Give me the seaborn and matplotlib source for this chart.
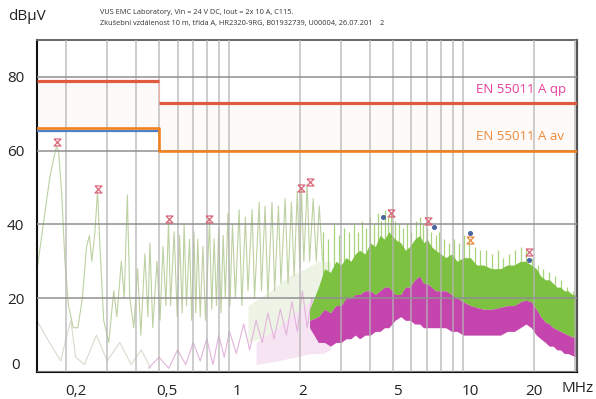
import numpy as np
import pandas as pd
import matplotlib
matplotlib.use("Agg")
import matplotlib.pyplot as plt
import seaborn as sns
from matplotlib.path import Path
from matplotlib.ticker import LogLocator, NullFormatter, FixedLocator
from matplotlib.transforms import ScaledTranslation

# ---------------- data ----------------
# limit lines
qp_f = [0.15, 0.5, 30.5]
qp_db = [79, 73]
av_f = [0.15, 0.5, 30.5]
av_db = [66.2, 60]
av2_f = [0.15, 0.5]
av2_db = [65.3]

# low-frequency (pale green) trace
lo_f = [0.150, 0.160, 0.170, 0.176, 0.182, 0.186, 0.192, 0.198, 0.205, 0.215, 0.225,
        0.235, 0.245, 0.252, 0.258, 0.266, 0.273, 0.279, 0.290, 0.305, 0.320, 0.330,
        0.345, 0.355, 0.366, 0.375, 0.390, 0.405, 0.418, 0.435, 0.448, 0.457, 0.470,
        0.490, 0.505, 0.520, 0.535, 0.549, 0.560, 0.580, 0.598, 0.612, 0.628, 0.640,
        0.655, 0.675, 0.690, 0.705, 0.718, 0.732, 0.750, 0.770, 0.790, 0.822, 0.840,
        0.860, 0.880, 0.900, 0.920, 0.940, 0.960, 0.985, 1.005, 1.03, 1.06, 1.10, 1.13,
        1.17, 1.20, 1.25, 1.28, 1.34, 1.37, 1.42, 1.46, 1.52, 1.56, 1.62, 1.66, 1.73,
        1.78, 1.84, 1.89, 1.95, 2.00, 2.03, 2.08, 2.15, 2.20, 2.28, 2.35, 2.42, 2.50]
lo_db = [27, 40, 52, 57, 61, 60, 48, 30, 18, 12, 12,
         20, 34, 37, 30, 38, 49, 35, 14, 8, 22, 15,
         30, 20, 48, 20, 12, 28, 10, 32, 15, 35, 12,
         30, 14, 34, 18, 41, 18, 38, 15, 37, 16, 40,
         18, 36, 14, 38, 16, 36, 15, 34, 14, 41, 17,
         36, 18, 39, 16, 37, 20, 43, 18, 40, 20, 44, 18,
         42, 22, 44, 20, 46, 22, 45, 20, 46, 22, 45, 24, 47,
         24, 46, 26, 49, 28, 50, 30, 51, 30, 47, 30, 45, 30]

# low-frequency faint lower trace
low2_f = [0.15, 0.17, 0.19, 0.20, 0.21, 0.22, 0.24, 0.27, 0.30, 0.34, 0.38, 0.42, 0.46]
low2_db = [14, 8, 3, 9, 14, 4, 2, 10, 3, 8, 2, 6, 1]

# pale magenta trace
pm_f = [0.45, 0.50, 0.55, 0.60, 0.65, 0.70, 0.75, 0.80, 0.85, 0.90, 0.95, 1.00, 1.07,
        1.15, 1.22, 1.30, 1.38, 1.46, 1.55, 1.65, 1.75, 1.85, 1.95, 2.05, 2.15, 2.25, 2.40]
pm_db = [1, 4, 1, 6, 2, 8, 3, 9, 2, 10, 4, 11, 5, 13, 6, 14, 8, 16, 9, 17, 10, 19, 11,
         22, 12, 20, 14]

# pale washes 1.2 - 2.7 MHz
pg_f = [1.2, 1.5, 1.8, 2.1, 2.4, 2.7]
pg_top = [18, 22, 26, 28, 30, 30]
pg_bot = [8, 10, 12, 14, 16, 17]
pmw_f = [1.3, 1.6, 1.9, 2.2, 2.5, 2.7]
pmw_top = [8, 12, 16, 19, 17, 17]
pmw_bot = [2, 3, 4, 5, 5, 6]

# dense band (green / magenta)
band_f = [2.2, 2.4, 2.55, 2.7, 2.85, 3.0, 3.15, 3.3, 3.45, 3.6, 3.8, 4.0, 4.2, 4.4, 4.6,
          4.8, 5.1, 5.4, 5.65, 5.9, 6.2, 6.5, 6.75, 7.0, 7.3, 7.6, 8.0, 8.4, 8.9, 9.4,
          10.0, 10.7, 11.4, 12.2, 13.2, 14.4, 15.4, 16.5, 17.5, 18.5, 19.5, 20.5, 21.4,
          22.4, 23.3, 24.2, 25.1, 26.0, 27.0, 28.0, 29.2, 30.5]
green_top = [17, 23, 28, 27, 30, 29, 31, 30, 32, 33, 32, 35, 34, 37, 36, 38, 36, 35, 33,
             34, 36, 37, 35, 36, 34, 33, 32, 31, 32, 30, 31, 31, 29, 29, 28, 28, 29, 29,
             30, 30, 29, 28, 26, 25, 25, 24, 23, 23, 22, 22, 21, 21]
mag_top = [14, 15, 17, 16, 18, 18, 20, 20, 21, 21, 22, 22, 21, 22, 23, 23, 21, 21, 23,
           23, 25, 26, 24, 24, 23, 22, 22, 22, 21, 20, 19, 18, 17.5, 17, 17, 17.5, 18,
           18, 19, 19.5, 19, 17, 15, 13.5, 13, 12, 11.5, 11, 10.5, 10, 9.5, 9.5]
mag_bot = [12, 8, 8, 7, 8, 8, 9, 9, 10, 9, 10, 10, 11, 11, 12, 12, 14, 15, 14, 14, 13,
           13, 12, 12, 12, 12, 12, 12, 11, 11, 10, 10, 10, 10, 10, 10, 11, 11, 12, 13,
           12, 10, 9, 8, 7, 7, 6, 6, 5, 5, 4.5, 4]

# spikes on top of the dense band
spike_f = [2.5, 2.65, 2.8, 2.95, 3.1, 3.25, 3.4, 3.55, 3.7, 3.85, 4.0, 4.15, 4.3, 4.45,
           4.6, 4.75, 4.9, 5.1, 5.3, 5.5, 5.75, 6.0, 6.25, 6.5, 6.75, 7.0, 7.3, 7.6, 7.9,
           8.3, 8.7, 9.1, 9.6, 10.1, 10.6, 11.2, 11.8, 12.5, 13.2, 14.0, 14.8, 15.7,
           16.6, 17.6, 18.6, 19.7, 20.8, 22.0, 23.3, 24.7, 26.2, 27.8, 29.5]
spike_db = [38, 36, 40, 37, 39, 38, 40, 38, 41, 39, 42, 40, 43, 41, 44, 42, 43, 41, 40,
            39, 40, 38, 41, 42, 40, 39, 38, 37, 38, 36, 35, 36, 35, 37, 35, 34, 33, 33,
            32, 33, 31, 32, 33, 34, 33, 31, 29, 28, 27, 26, 25, 23, 22]

# peak markers
qpm_f = [0.184, 0.273, 0.554, 0.821, 2.03, 2.20, 4.92, 7.08, 19.0]
qpm_db = [62.4, 49.7, 41.4, 41.6, 50.0, 51.6, 43.0, 41.0, 32.4]
avm_f = [10.7]
avm_db = [35.7]
dot_f = [4.54, 7.5, 10.7, 19.0]
dot_db = [41.9, 39.3, 37.8, 30.3]

xticks = [0.2, 0.5, 1, 2, 5, 10, 20]
xtick_labels = ["0,2", "0,5", "1", "2", "5", "10", "20"]
yticks = [0, 20, 40, 60, 80]
ytick_labels = ["0", "20", "40", "60", "80"]

# ---------------- figure ----------------
sns.set_theme(style="white")
plt.rcParams['font.family'] = ['Open Sans', 'DejaVu Sans']

fig = plt.figure(figsize=(5.96, 3.99), dpi=100)
ax = fig.add_axes([0.0616, 0.0677, 0.9060, 0.8321])
ax.set_xscale('log')
ax.set_xlim(0.15, 30.5)
ax.set_ylim(0, 90)

# faint tint between limit lines
ax.fill_between([0.15, 0.5], [66.2, 66.2], [79, 79], color='#fffafa', zorder=0, lw=0)
ax.fill_between([0.5, 30.5], [60, 60], [73, 73], color='#fffafa', zorder=0, lw=0)

# low frequency traces
lo = pd.DataFrame({'f': lo_f, 'db': lo_db})
ax.fill_between(pg_f, pg_bot, pg_top, color='#edf4e6', lw=0, zorder=1.0)
ax.fill_between(pmw_f, pmw_bot, pmw_top, color='#f6e4f3', lw=0, zorder=1.05)
sns.lineplot(data=lo, x='f', y='db', ax=ax, color='#bdd1a2', lw=0.8, sort=False, zorder=1.2)
ax.plot(low2_f, low2_db, color='#d6dccd', lw=0.8, zorder=1.1)
ax.plot(pm_f, pm_db, color='#e3b3dc', lw=0.8, zorder=1.1)

# dense band
ax.vlines(spike_f, 15, spike_db, color='#a8d47c', lw=0.9, zorder=1.3)
ax.fill_between(band_f, mag_top, green_top, color='#7cc13f', lw=0, zorder=1.4)
ax.fill_between(band_f, mag_bot, mag_top, color='#c445ad', lw=0, zorder=1.5)

# grid
ax.xaxis.set_major_locator(FixedLocator(xticks))
ax.xaxis.set_minor_locator(LogLocator(base=10, subs=np.arange(1, 10)))
ax.xaxis.set_minor_formatter(NullFormatter())
ax.set_xticklabels(xtick_labels)
ax.set_yticks(yticks)
ax.set_yticklabels(ytick_labels)
ax.set_axisbelow(False)
ax.grid(axis='x', which='both', color='#b4b4b4', lw=1.1, alpha=0.85)
ax.grid(axis='y', which='major', color='#8f8f8f', lw=1.1)
ax.tick_params(which='both', length=0, labelsize=11, colors='#222222')
ax.tick_params(axis='x', pad=9)
ax.tick_params(axis='y', pad=9)

# per-label offsets (pixels)
xoff = [10, 8, 8, 3, 4, 7, 0]
for lab, dx in zip(ax.get_xticklabels(), xoff):
    lab.set_transform(lab.get_transform() + ScaledTranslation(dx / 100, 0, fig.dpi_scale_trans))
for lab in ax.get_yticklabels():
    if lab.get_text() == "0":
        lab.set_transform(lab.get_transform() + ScaledTranslation(-4 / 100, 8 / 100, fig.dpi_scale_trans))

# limit lines
ax.hlines(qp_db, qp_f[:-1], qp_f[1:], color='#e05a40', lw=2.3, zorder=4)
ax.vlines([qp_f[1]], qp_db[1], qp_db[0], color='#f0b0a8', lw=0.8, zorder=3.9)
ax.hlines(av2_db, av2_f[:-1], av2_f[1:], color='#4f7fc4', lw=1.6, zorder=4)
ax.step(av_f, av_db + [av_db[-1]], where='post', color='#f0821e', lw=1.9, zorder=4.1)

# markers
hg = Path([(-1, 1), (1, 1), (-1, -1), (1, -1), (-1, 1)],
          [Path.MOVETO, Path.LINETO, Path.LINETO, Path.LINETO, Path.LINETO])
ax.plot(qpm_f, qpm_db, ls='none', marker=hg, ms=5, mfc='none', mec='#d9667a', mew=0.9, zorder=5)
ax.plot(avm_f, avm_db, ls='none', marker=hg, ms=5, mfc='none', mec='#e8893a', mew=0.9, zorder=5)
ax.plot(dot_f, dot_db, ls='none', marker='o', ms=2.6, mfc='#4a64a0', mec='#4a64a0', zorder=5)

# spines
for s in ['left', 'bottom']:
    ax.spines[s].set_color('#111111')
    ax.spines[s].set_linewidth(1.5)
ax.spines['top'].set_color('#666666')
ax.spines['top'].set_linewidth(1.4)
ax.spines['right'].set_color('#555555')
ax.spines['right'].set_linewidth(1.6)

ax.set_xlabel('')
ax.set_ylabel('')

# texts
fig.text(8 / 596, 1 - 17 / 399, 'dBµV', fontsize=11, va='center', ha='left', color='#222222')
fig.text(100 / 596, 1 - 13 / 399, 'VUS EMC Laboratory, Vin = 24 V DC, Iout = 2x 10 A, C115.',
         fontsize=5.3, va='center', ha='left', color='#333333')
fig.text(100 / 596, 1 - 24 / 399,
         'Zkušební vzdálenost 10 m, třída A, HR2320-9RG, B01932739, U00004, 26.07.201    2',
         fontsize=5.3, va='center', ha='left', color='#333333')
fig.text(578 / 596, 1 - 389 / 399, 'MHz', fontsize=11, va='center', ha='center', color='#222222')
fig.text(521 / 596, 1 - 90 / 399, 'EN 55011 A qp', fontsize=9.5, va='center', ha='center', color='#e8409a')
fig.text(520 / 596, 1 - 137 / 399, 'EN 55011 A av', fontsize=9.5, va='center', ha='center', color='#f08a3a')

fig.savefig('out.png', dpi=100)
